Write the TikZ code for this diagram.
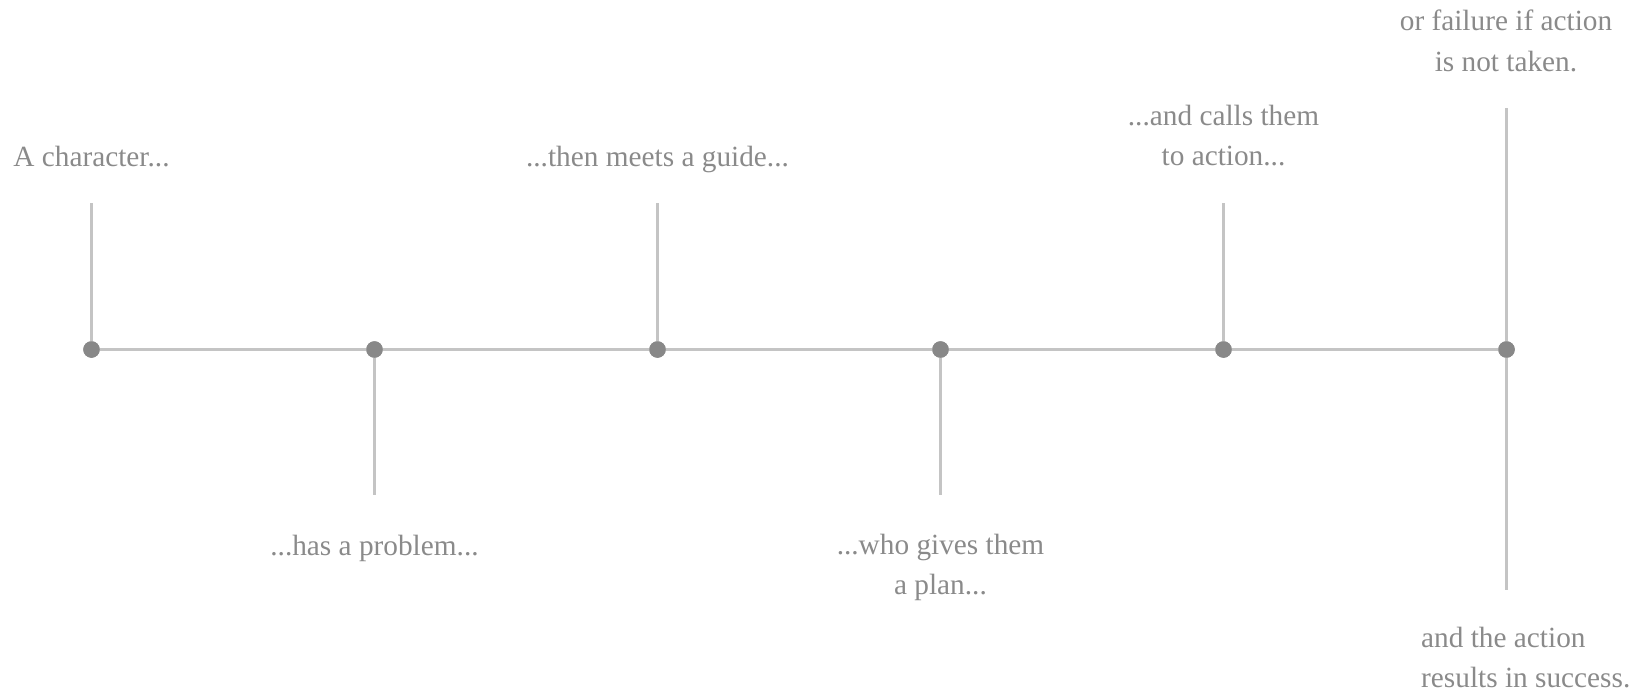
\documentclass[tikz,border=0pt]{standalone}
\usepackage{fontspec}
\setmainfont{Liberation Serif}
\definecolor{linegray}{HTML}{C4C4C4}
\definecolor{dotgray}{HTML}{888888}
\definecolor{textgray}{HTML}{8A8A8A}
\begin{document}
\begin{tikzpicture}[x=1pt,y=-1pt,
  stem/.style={draw=linegray,line width=2.2pt},
  dot/.style={circle,fill=dotgray,inner sep=0pt,minimum size=16.5pt},
  lbl/.style={text=textgray,font=\fontsize{29.3}{40}\selectfont,inner sep=0pt,anchor=base,align=center}]
\useasboundingbox (0,0) rectangle (1631,693);
% timeline dots
\node[dot] (d1) at (91.5,349.5) {};
\node[dot] (d2) at (374.5,349.5) {};
\node[dot] (d3) at (657.5,349.5) {};
\node[dot] (d4) at (940.5,349.5) {};
\node[dot] (d5) at (1223.5,349.5) {};
\node[dot] (d6) at (1506.5,349.5) {};
% stem ends
\coordinate (t1) at (91.5,203);
\coordinate (b2) at (374.5,495);
\coordinate (t3) at (657.5,203);
\coordinate (b4) at (940.5,495);
\coordinate (t5) at (1223.5,203);
\coordinate (t6) at (1506.5,108);
\coordinate (b6) at (1506.5,590);
% lines
\draw[stem] (d1.center) -- (d6.center);
\draw[stem] (d1.center) -- (t1);
\draw[stem] (d2.center) -- (b2);
\draw[stem] (d3.center) -- (t3);
\draw[stem] (d4.center) -- (b4);
\draw[stem] (d5.center) -- (t5);
\draw[stem] (t6) -- (b6);
\foreach \d in {d1,d2,d3,d4,d5,d6} \node[dot] at (\d) {};
% labels (base = baseline of last line)
\node[lbl] (l1) at (91.5,166) {A character...};
\node[lbl] (l2) at (374.5,555) {...has a problem...};
\node[lbl] (l3) at (657.5,166) {...then meets a guide...};
\node[lbl] (l4) at (940.5,594) {...who gives them\\a plan...};
\node[lbl] (l5) at (1223.5,165) {...and calls them\\to action...};
\node[lbl] (l6) at (1506,71) {or failure if action\\is not taken.};
\node[lbl,align=left,anchor=base west] (l7) at (1421,687) {and the action\\results in success.};
\end{tikzpicture}
\end{document}
